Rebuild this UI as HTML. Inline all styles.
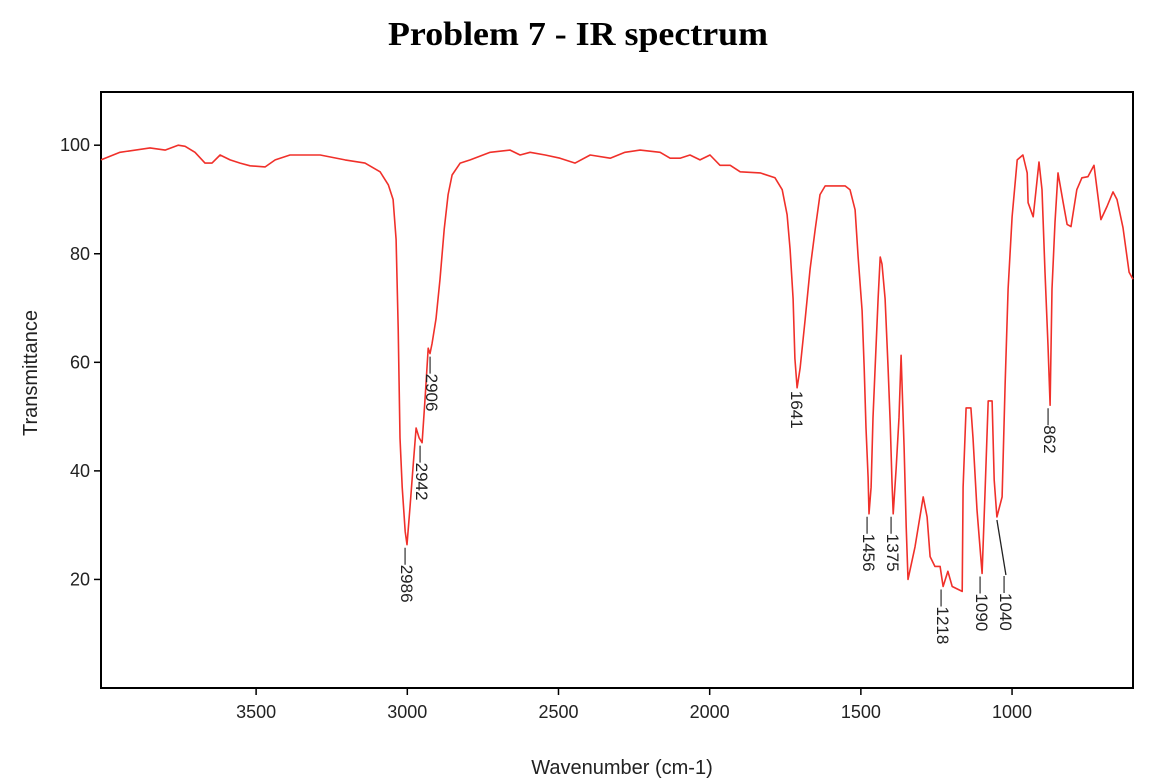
<!DOCTYPE html>
<html><head><meta charset="utf-8"><style>
html,body{margin:0;padding:0;background:#fff;}
svg{display:block;}
</style></head><body>
<svg id="chart" width="1170" height="782" viewBox="0 0 1170 782" xmlns="http://www.w3.org/2000/svg">
<text x="578" y="45" text-anchor="middle" font-family="Liberation Serif, serif" font-weight="bold" font-size="34" textLength="380" lengthAdjust="spacingAndGlyphs" fill="#000">Problem 7 - IR spectrum</text>
<rect x="101" y="92" width="1032" height="596" fill="none" stroke="#000" stroke-width="2"/>
<g id="xticks"></g>
<g id="yticks"></g>
<path id="spectrum" fill="none" stroke="#f0302a" stroke-width="1.6" stroke-linejoin="round"/>
<g id="labels"></g>
<text x="622" y="774" text-anchor="middle" font-family="Liberation Sans, sans-serif" font-size="20" fill="#222">Wavenumber (cm-1)</text>
<text transform="translate(37,373) rotate(-90)" text-anchor="middle" font-family="Liberation Sans, sans-serif" font-size="20" fill="#222">Transmittance</text>
</svg>
<script>
const wavenumbers=[4013,3950,3851,3801,3758,3735,3702,3669,3646,3619,3586,3553,3520,3470,3437,3388,3288,3206,3140,3090,3063,3047,3037,3030,3024,3017,3007,3001,2991,2981,2971,2961,2951,2941,2931,2925,2918,2905,2892,2878,2865,2852,2825,2792,2726,2660,2627,2594,2544,2495,2445,2395,2329,2280,2230,2164,2131,2098,2065,2032,1999,1966,1932,1899,1833,1784,1760,1744,1734,1724,1718,1711,1701,1684,1668,1651,1635,1618,1552,1536,1519,1509,1496,1489,1483,1476,1473,1466,1460,1453,1443,1436,1430,1420,1410,1403,1397,1393,1383,1374,1367,1357,1350,1344,1321,1294,1281,1271,1255,1238,1228,1212,1198,1165,1162,1152,1136,1129,1116,1099,1089,1079,1066,1059,1050,1033,1023,1013,1000,983,964,950,947,930,917,911,901,891,881,874,868,858,848,831,818,805,786,769,749,729,706,686,666,653,633,613,600];
const transmittance=[97.3,98.7,99.5,99.1,100,99.8,98.7,96.7,96.7,98.2,97.3,96.7,96.2,96.0,97.3,98.2,98.2,97.3,96.7,95.1,92.7,90.0,82.6,66.2,46.1,37.0,28.8,26.4,33.3,40.6,47.9,46.1,45.2,53.4,62.6,61.6,63.5,68.0,75.3,84.5,90.9,94.5,96.7,97.3,98.7,99.1,98.2,98.7,98.2,97.6,96.7,98.2,97.6,98.7,99.1,98.7,97.6,97.6,98.2,97.3,98.2,96.3,96.3,95.1,94.9,94.0,91.8,87.2,80.8,71.7,60.7,55.3,58.9,68.0,77.2,84.5,90.9,92.5,92.5,91.8,88.1,79.5,69.5,58.9,47.9,38.8,32.1,37.0,49.8,58.9,71.7,79.4,78.1,71.7,58.9,48.9,37.9,32.1,40.6,49.8,61.3,44.3,29.7,20.0,26.0,35.2,31.5,24.2,22.4,22.4,18.7,21.5,18.7,17.8,37.0,51.6,51.6,46.1,32.8,21.1,36.4,52.9,52.9,38.3,31.5,35.2,55.8,73.5,86.8,97.3,98.2,94.9,89.4,86.8,93.6,96.9,91.8,76.6,63.1,52.1,73.5,85.8,94.9,89.4,85.4,85.0,91.8,94.0,94.2,96.3,86.3,88.7,91.4,90.0,84.8,76.6,75.3];
const xTicks=[3500,3000,2500,2000,1500,1000];
const yTicks=[20,40,60,80,100];
const peakLabels=["2986","2942","2906","1641","1456","1375","1218","1090","1040","862"];
const peakX=[3001,2951,2918,1711,1473,1393,1228,1099,1050,874];
const peakT=[26.4,45.2,61.6,55.3,32.1,32.1,18.7,21.1,31.5,52.1];

const L=101,R=1133,T=92,B=688;
const wMax=4013,wMin=600,tMin=0,tMax=109.8;
const xs=w=>L+(wMax-w)/(wMax-wMin)*(R-L);
const ys=t=>B-(t-tMin)/(tMax-tMin)*(B-T);
const NS='http://www.w3.org/2000/svg';
function mk(tag,attrs,parent){const e=document.createElementNS(NS,tag);for(const k in attrs)e.setAttribute(k,attrs[k]);parent.appendChild(e);return e;}

const xg=document.getElementById('xticks');
xTicks.forEach(v=>{
  const l=mk('line',{x1:xs(v),x2:xs(v),y1:B,y2:B+7,stroke:'#000','stroke-width':1.5},xg);
  
  
  const t=mk('text',{x:xs(v),y:B+30,'text-anchor':'middle','font-family':'Liberation Sans, sans-serif','font-size':18,fill:'#222'},xg);
  t.textContent=v;
  
  
});
const yg=document.getElementById('yticks');
yTicks.forEach(v=>{
  const l=mk('line',{x1:L-7,x2:L,y1:ys(v),y2:ys(v),stroke:'#000','stroke-width':1.5},yg);
  
  
  const t=mk('text',{x:L-11,y:ys(v)+6,'text-anchor':'end','font-family':'Liberation Sans, sans-serif','font-size':18,fill:'#222'},yg);
  t.textContent=v;
  
  
});
let d='';
wavenumbers.forEach((w,i)=>{d+=(i?'L':'M')+xs(w).toFixed(1)+','+ys(transmittance[i]).toFixed(1);});
document.getElementById('spectrum').setAttribute('d',d);

const lg=document.getElementById('labels');
peakLabels.forEach((lab,i)=>{
  let px=xs(peakX[i]),py=ys(peakT[i])+3;
  let tx=px,ty=py;
  if(lab==='1040'){
    const ln=mk('line',{x1:px,y1:py,x2:px+9,y2:py+55,stroke:'#222','stroke-width':1.3},lg);
    
    
    tx=px+9;ty=py+56;
  }
  const txt=mk('text',{transform:'translate('+(tx-6)+','+ty+') rotate(90)','font-family':'Liberation Sans, sans-serif','font-size':17,fill:'#222'},lg);
  txt.textContent=(lab==='1641'?'':'—')+lab;
  
  
});
</script>
</body></html>
